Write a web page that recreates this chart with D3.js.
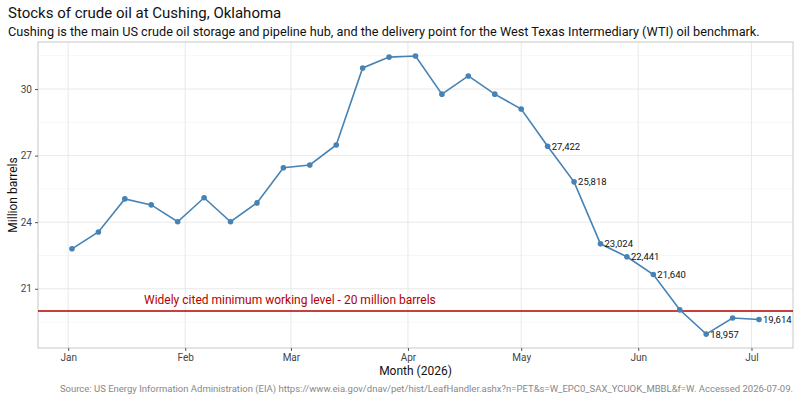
<!DOCTYPE html>
<html><head><meta charset="utf-8">
<script src="https://cdn.jsdelivr.net/npm/d3@7"></script>
<style>body{margin:0;background:#fff;font-family:Roboto,sans-serif}</style>
</head><body><svg id="c" width="800" height="400"></svg>
<script>
// weekly stocks (million barrels), Fridays from 2026-01-02
var dates = ["2026-01-02","2026-01-09","2026-01-16","2026-01-23","2026-01-30","2026-02-06","2026-02-13","2026-02-20","2026-02-27","2026-03-06","2026-03-13","2026-03-20","2026-03-27","2026-04-03","2026-04-10","2026-04-17","2026-04-24","2026-05-01","2026-05-08","2026-05-15","2026-05-22","2026-05-29","2026-06-05","2026-06-12","2026-06-19","2026-06-26","2026-07-03"];
var stocks = [22.80,23.56,25.05,24.78,24.02,25.10,24.02,24.87,26.45,26.58,27.48,30.95,31.44,31.49,29.77,30.59,29.77,29.10,27.422,25.818,23.024,22.441,21.640,20.05,18.957,19.68,19.614];
var labelled = [18,19,20,21,22,24,26];
var yTicks = [21,24,27,30];
var monthTicks = ["2026-01-01","2026-02-01","2026-03-01","2026-04-01","2026-05-01","2026-06-01","2026-07-01"];
var minLevel = 20;

var parse = d3.timeParse("%Y-%m-%d");
var data = dates.map(function(d, i) { return {date: parse(d), v: stocks[i]}; });

var svg = d3.select("#c");
var L = 38, R = 793, T = 42, B = 348;

var x = d3.scaleTime().domain([parse("2025-12-24"), parse("2026-07-12")]).range([L, R]);
var y = d3.scaleLinear().domain([18.33, 32.12]).range([B, T]);

// gridlines
var minor = [19.5,22.5,25.5,28.5,31.5];
svg.selectAll(".gmy").data(minor).enter().append("line")
  .attr("x1", L).attr("x2", R).attr("y1", y).attr("y2", y)
  .attr("stroke", "#f0f0f0").attr("stroke-width", 0.6);
svg.selectAll(".gy").data(yTicks).enter().append("line")
  .attr("x1", L).attr("x2", R).attr("y1", y).attr("y2", y)
  .attr("stroke", "#e3e3e3").attr("stroke-width", 0.8);
svg.selectAll(".gx").data(monthTicks.map(parse)).enter().append("line")
  .attr("y1", T).attr("y2", B).attr("x1", x).attr("x2", x)
  .attr("stroke", "#e3e3e3").attr("stroke-width", 0.8);

svg.append("rect").attr("x", L).attr("y", T).attr("width", R - L).attr("height", B - T)
  .attr("fill", "none").attr("stroke", "#bbb").attr("stroke-width", 0.8);

// axes
var xAxis = svg.append("g").attr("transform", "translate(0," + B + ")")
  .call(d3.axisBottom(x).tickValues(monthTicks.map(parse)).tickFormat(d3.timeFormat("%b")).tickSize(3));
var yAxis = svg.append("g").attr("transform", "translate(" + L + ",0)")
  .call(d3.axisLeft(y).tickValues(yTicks).tickSize(3));
[xAxis, yAxis].forEach(function(a) {
  a.select(".domain").remove();
  a.selectAll("line").attr("stroke", "#555");
  a.selectAll("text").attr("fill", "#444").style("font-size", "10px").style("font-family", "Roboto");
});

// reference line
svg.append("line").attr("x1", L).attr("x2", R).attr("y1", y(minLevel)).attr("y2", y(minLevel))
  .attr("stroke", "#b30000").attr("stroke-width", 1.6);
svg.append("text").attr("x", 144).attr("y", y(minLevel) - 7)
  .attr("fill", "#b30000").style("font-size", "12px")
  .text("Widely cited minimum working level - 20 million barrels");

// line & points
svg.append("path").datum(data)
  .attr("d", d3.line().x(function(d) { return x(d.date); }).y(function(d) { return y(d.v); }))
  .attr("fill", "none").attr("stroke", "#4682b4").attr("stroke-width", 1.6);
svg.selectAll(".pt").data(data).enter().append("circle")
  .attr("cx", function(d) { return x(d.date); }).attr("cy", function(d) { return y(d.v); })
  .attr("r", 2.8).attr("fill", "#4682b4");

svg.selectAll(".lb").data(labelled.map(function(i) { return data[i]; })).enter().append("text")
  .attr("x", function(d) { return x(d.date) + 4; }).attr("y", function(d) { return y(d.v) + 3.5; })
  .style("font-size", "9.5px").attr("fill", "#111")
  .text(function(d) { return d3.format(",")(Math.round(d.v * 1000)); });

// titles
svg.append("text").attr("x", 8).attr("y", 18).style("font-size", "15px").attr("fill", "#111")
  .text("Stocks of crude oil at Cushing, Oklahoma");
svg.append("text").attr("x", 8).attr("y", 36).style("font-size", "12.7px").attr("fill", "#111")
  .text("Cushing is the main US crude oil storage and pipeline hub, and the delivery point for the West Texas Intermediary (WTI) oil benchmark.");
svg.append("text").attr("x", (L + R) / 2).attr("y", 375).attr("text-anchor", "middle")
  .style("font-size", "12px").attr("fill", "#111").text("Month (2026)");
svg.append("text").attr("transform", "translate(17," + ((T + B) / 2) + ")rotate(-90)")
  .attr("text-anchor", "middle").style("font-size", "12px").attr("fill", "#111").text("Million barrels");
svg.append("text").attr("x", 793).attr("y", 392).attr("text-anchor", "end")
  .style("font-size", "9.5px").attr("fill", "#888")
  .text("Source: US Energy Information Administration (EIA) https://www.eia.gov/dnav/pet/hist/LeafHandler.ashx?n=PET&s=W_EPC0_SAX_YCUOK_MBBL&f=W. Accessed 2026-07-09.");
</script></body></html>
